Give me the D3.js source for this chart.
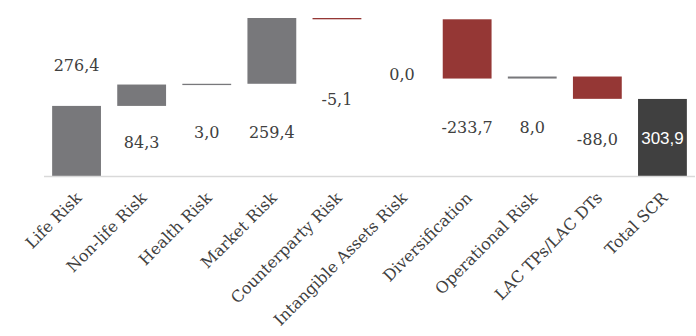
<!DOCTYPE html>
<html>
<head>
<meta charset="utf-8">
<script src="https://cdn.jsdelivr.net/npm/d3@7"></script>
<style>
  body { margin: 0; background: #fff; }
</style>
</head>
<body>
<div id="chart"></div>
<script>
// waterfall data
var categories = ["Life Risk", "Non-life Risk", "Health Risk", "Market Risk", "Counterparty Risk",
  "Intangible Assets Risk", "Diversification", "Operational Risk", "LAC TPs/LAC DTs", "Total SCR"]
var values = [276.4, 84.3, 3.0, 259.4, -5.1, 0.0, -233.7, 8.0, -88.0, 303.9]
var isTotal = [false, false, false, false, false, false, false, false, false, true]

// where each value label sits (pixels from top)
var labelY = [66, 143, 133, 133, 100, 75, 128, 128, 140, 140]

var width = 696
var height = 336
var baseY = 176

var svg = d3.select("#chart")
    .append("svg")
    .attr("width", width)
    .attr("height", height)

// build start/end for each step
var running = 0
var data = categories.map(function (c, i) {
    var d = { name: c, value: values[i], total: isTotal[i] }
    if (d.total) {
        d.start = 0
        d.end = d.value
        running = d.value
    } else {
        d.start = running
        d.end = running + d.value
        running = d.end
    }
    return d
})

var x = d3.scaleBand()
    .domain(categories)
    .range([44, 695])
    .paddingInner(0.25)
    .paddingOuter(0.125)

var y = d3.scaleLinear()
    .domain([0, 623.1])
    .range([baseY, 18])

function color(d) {
    if (d.total) return "#404040"
    return d.value < 0 ? "#953735" : "#78787b"
}

// bars
svg.append("g")
    .selectAll("rect")
    .data(data)
    .enter()
    .append("rect")
    .attr("x", function (d) { return x(d.name) })
    .attr("width", x.bandwidth())
    .attr("y", function (d) { return y(Math.max(d.start, d.end)) })
    .attr("height", function (d) {
        var h = Math.abs(y(d.start) - y(d.end))
        return d.value === 0 ? 0 : Math.max(h, 1.3)
    })
    .style("fill", color)

// baseline
svg.append("line")
    .attr("x1", 44).attr("x2", 695)
    .attr("y1", baseY + 0.5).attr("y2", baseY + 0.5)
    .style("stroke", "#d9d9d9")
    .style("stroke-width", 1.5)

// value labels, comma decimal and plain hyphen for minus
var locale = d3.formatLocale({ decimal: ",", thousands: ".", grouping: [3], currency: ["", ""], minus: "-" })
var fmt = locale.format(".1f")

svg.append("g")
    .selectAll("text")
    .data(data)
    .enter()
    .append("text")
    .attr("x", function (d) { return x(d.name) + x.bandwidth() / 2 })
    .attr("y", function (d, i) { return labelY[i] })
    .attr("text-anchor", "middle")
    .attr("dominant-baseline", "middle")
    .style("font-family", function (d) { return d.total ? "Liberation Sans" : "DejaVu Serif" })
    .style("font-size", function (d) { return d.total ? "17px" : "16px" })
    .style("fill", function (d) { return d.total ? "#ffffff" : "#404040" })
    .text(function (d) { return fmt(d.value) })

// category labels, rotated
svg.append("g")
    .selectAll("text")
    .data(data)
    .enter()
    .append("text")
    .attr("transform", function (d) {
        var cx = x(d.name) + x.bandwidth() / 2 + 6
        return "translate(" + cx + "," + 199 + ") rotate(-45)"
    })
    .attr("text-anchor", "end")
    .style("font-family", "DejaVu Serif")
    .style("font-size", "16px")
    .style("fill", "#404040")
    .text(function (d) { return d.name })
</script>
</body>
</html>
